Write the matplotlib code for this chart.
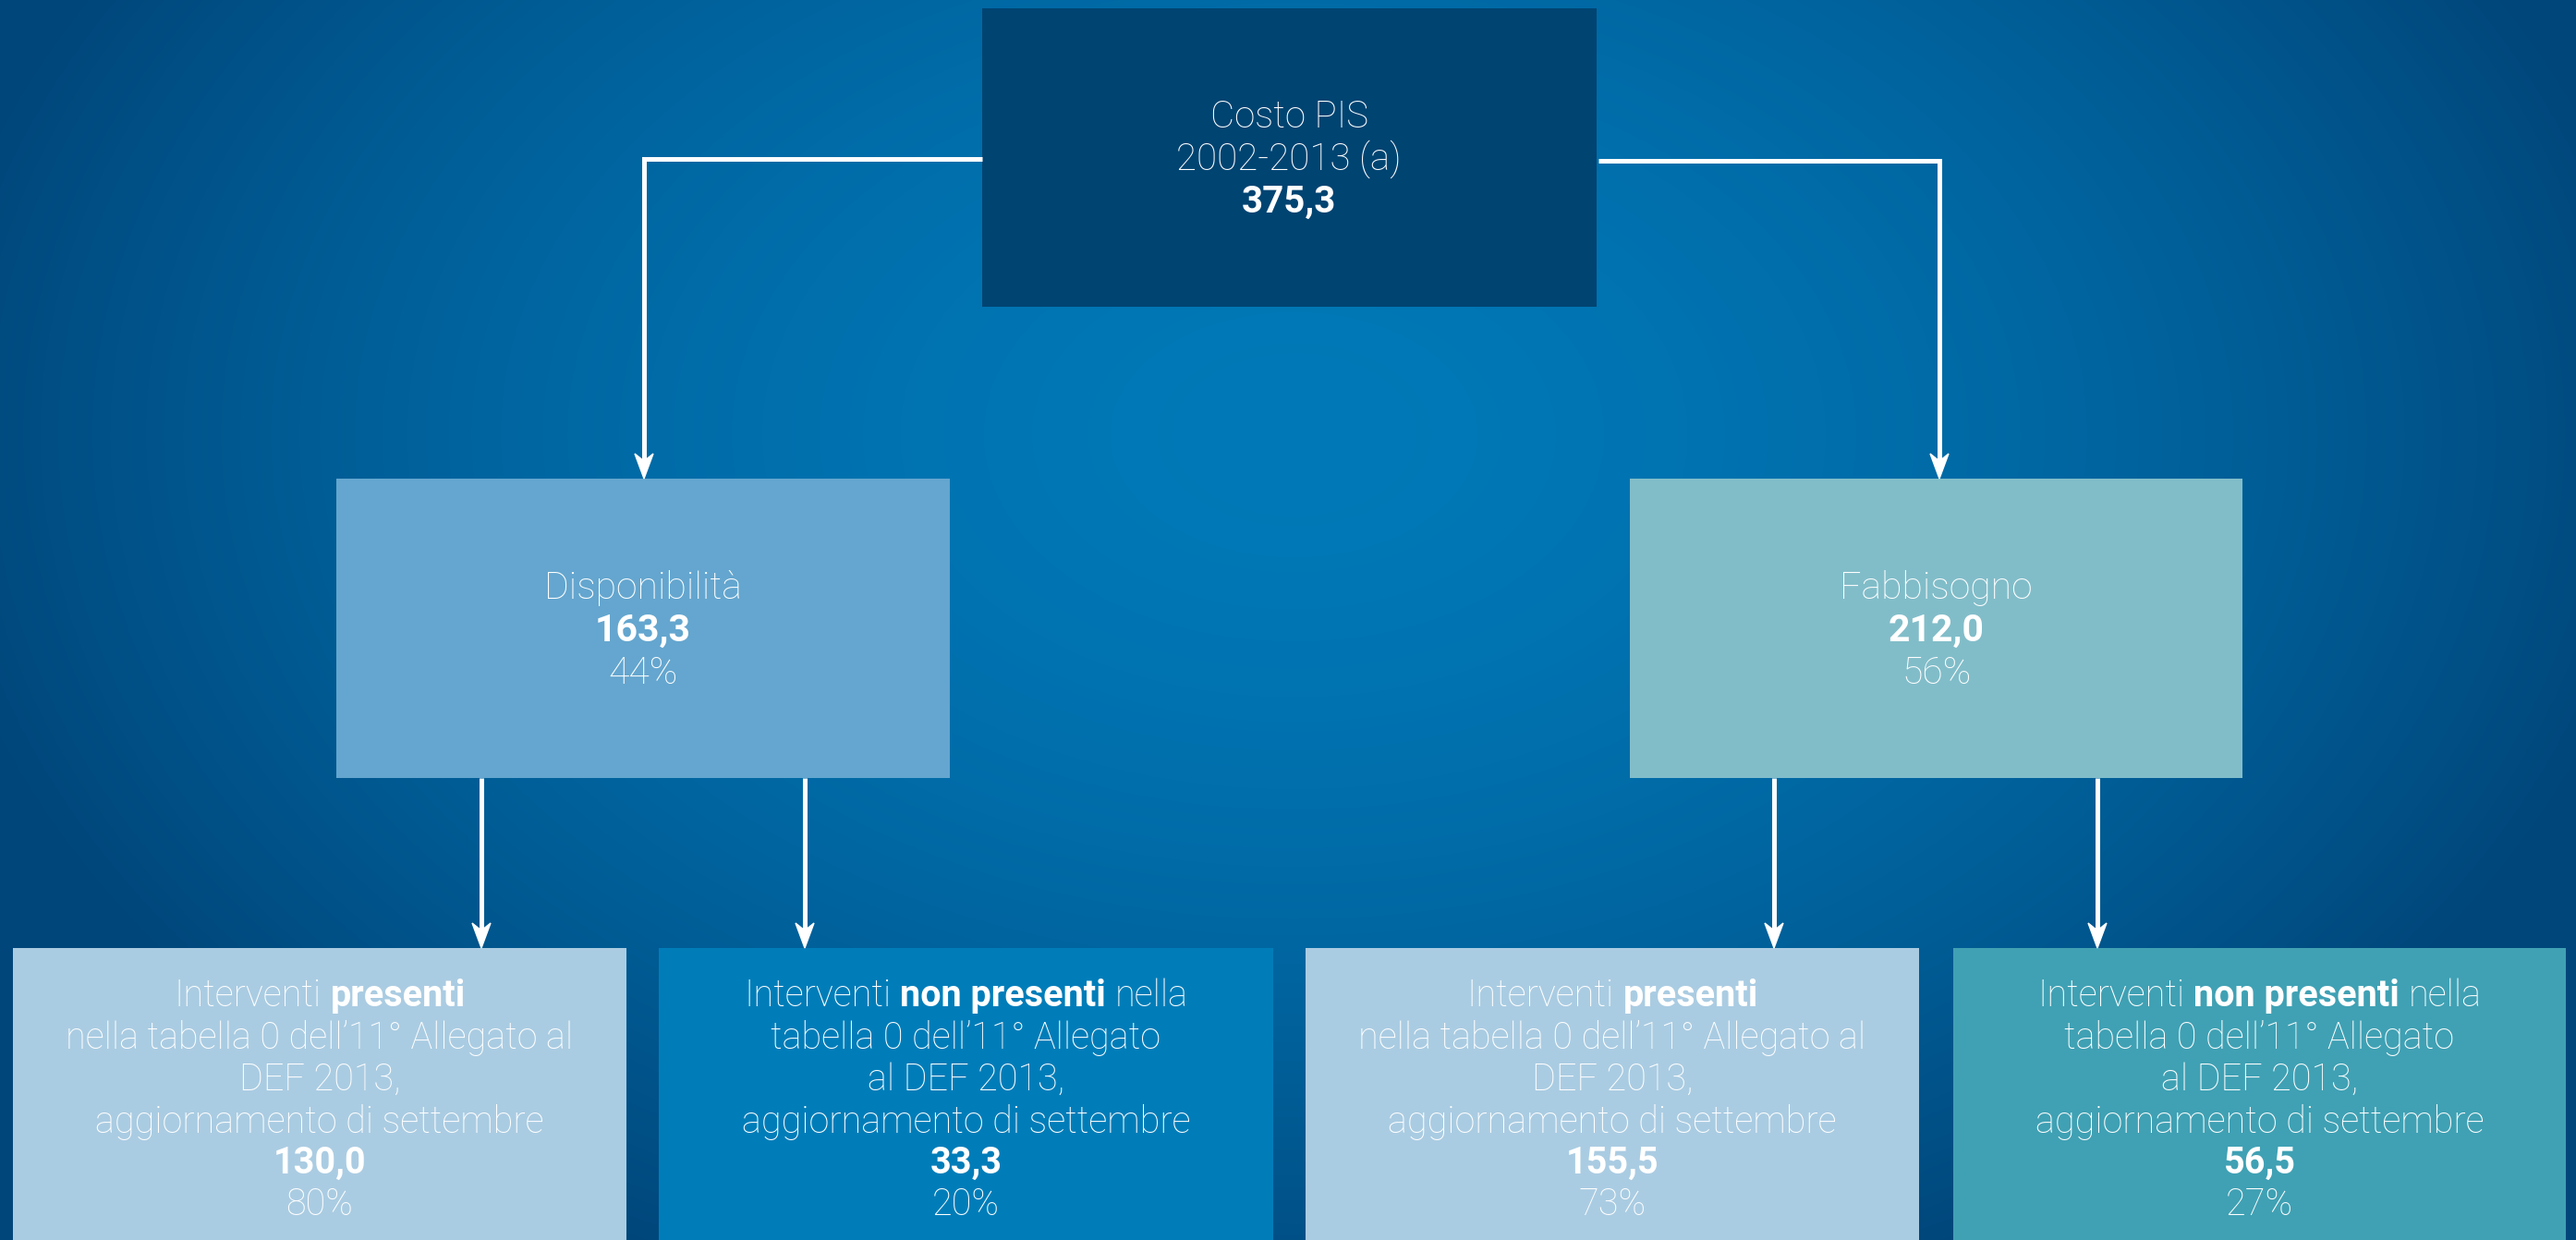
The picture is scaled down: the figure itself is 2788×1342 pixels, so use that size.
import numpy as np
import matplotlib
matplotlib.use("Agg")
import matplotlib.pyplot as plt
from matplotlib.patches import Rectangle, Polygon

# ---- data (values in the boxes, comma decimals as in the source) ----
top_lines = ["Costo PIS", "2002-2013 (a)"]
top_value = 375.3

mid_labels = ["Disponibilità", "Fabbisogno"]
mid_values = [163.3, 212.0]
mid_shares = [44, 56]

bottom_values = [130.0, 33.3, 155.5, 56.5]
bottom_shares = [80, 20, 73, 27]
text_present = [
    [("Interventi", "light"), ("presenti", "bold")],
    [("nella tabella 0 dell’11° Allegato al", "light")],
    [("DEF 2013,", "light")],
    [("aggiornamento di settembre", "light")],
]
text_absent = [
    [("Interventi ", "light"), ("non presenti", "bold"), ("nella", "light")],
    [("tabella 0 dell’11° Allegato", "light")],
    [("al DEF 2013,", "light")],
    [("aggiornamento di settembre", "light")],
]
bottom_texts = [text_present, text_absent, text_present, text_absent]

# ---- styling ----
W, H = 2788, 1342
FONT = "Roboto"
top_color = "#004472"
mid_colors = ["#64a6cf", "#81bdc9"]
bottom_colors = ["#aacce2", "#007db9", "#aacce2", "#40a1b4"]


def fmt(v):
    return f"{v:.1f}".replace(".", ",")


fig = plt.figure(figsize=(W / 100, H / 100), dpi=100)
ax = fig.add_axes([0, 0, 1, 1])
ax.set_xlim(0, W)
ax.set_ylim(H, 0)
ax.axis("off")

# background radial gradient
yy, xx = np.mgrid[0:H, 0:W]
r = np.sqrt(((xx - 1400) / 1500.0) ** 2 + ((yy - 470) / 1000.0) ** 2)
t = np.clip(r, 0, 1) ** 1.7
c0 = np.array([0x00, 0x79, 0xb8]) / 255.0
c1 = np.array([0x00, 0x46, 0x7a]) / 255.0
bg = c0[None, None, :] * (1 - t[..., None]) + c1[None, None, :] * t[..., None]
ax.imshow(bg, extent=[0, W, H, 0], aspect="auto", zorder=0)

renderer = fig.canvas.get_renderer()


def draw_line(xc, y, parts, size):
    texts = [ax.text(0, y, s.strip(), fontsize=size, fontweight=w, color="white",
                     family=FONT, va="baseline", ha="left", zorder=5)
             for s, w in parts]
    widths = [tx.get_window_extent(renderer).width for tx in texts]
    gap = 0.25 * size * 100 / 72
    total = sum(widths) + gap * (len(texts) - 1)
    x = xc - total / 2
    for tx, w in zip(texts, widths):
        tx.set_x(x)
        x += w + gap


def box(x0, y0, x1, y1, color):
    ax.add_patch(Rectangle((x0, y0), x1 - x0, y1 - y0, facecolor=color,
                           edgecolor="none", zorder=2))


def arrow_head(x, ytip):
    ax.add_patch(Polygon([(x, ytip), (x - 10, ytip - 27), (x, ytip - 19),
                          (x + 10, ytip - 27)], closed=True, facecolor="white",
                         edgecolor="white", lw=1, zorder=4))


def connector(xs, ys):
    ax.plot(xs, ys, color="white", lw=3.6, solid_joinstyle="miter",
            solid_capstyle="butt", zorder=3)


# top box
box(1063, 9, 1728, 332, top_color)
draw_line(1395, 138, [(top_lines[0], "light")], 29)
draw_line(1395, 184, [(top_lines[1], "light")], 29)
draw_line(1395, 230, [(fmt(top_value), "bold")], 29)

# connectors top -> middle
connector([1063, 697, 697], [172, 172, 510])
arrow_head(697, 518)
connector([1730, 2099, 2099], [174, 174, 510])
arrow_head(2099, 518)

# middle boxes
mid_x = [(364, 1028), (1764, 2427)]
for (x0, x1), lab, val, sh, col in zip(mid_x, mid_labels, mid_values, mid_shares, mid_colors):
    box(x0, 518, x1, 842, col)
    xc = (x0 + x1) / 2
    draw_line(xc, 648, [(lab, "light")], 29.5)
    draw_line(xc, 694, [(fmt(val), "bold")], 29.5)
    draw_line(xc, 740, [(f"{sh}%", "light")], 29.5)

# arrows middle -> bottom
for xa in [521, 871, 1920, 2270]:
    connector([xa, xa], [842, 1018])
    arrow_head(xa, 1026)

# bottom boxes
bottom_x = [(14, 678), (713, 1378), (1413, 2077), (2114, 2777)]
base = [1089, 1135, 1180, 1226, 1270, 1315]
for (x0, x1), lines, val, sh, col in zip(bottom_x, bottom_texts, bottom_values,
                                          bottom_shares, bottom_colors):
    box(x0, 1026, x1, H + 5, col)
    xc = (x0 + x1) / 2
    for yb, parts in zip(base[:4], lines):
        draw_line(xc, yb, parts, 28.5)
    draw_line(xc, base[4], [(fmt(val), "bold")], 28.5)
    draw_line(xc, base[5], [(f"{sh}%", "light")], 28.5)

fig.savefig("out.png", dpi=100)
